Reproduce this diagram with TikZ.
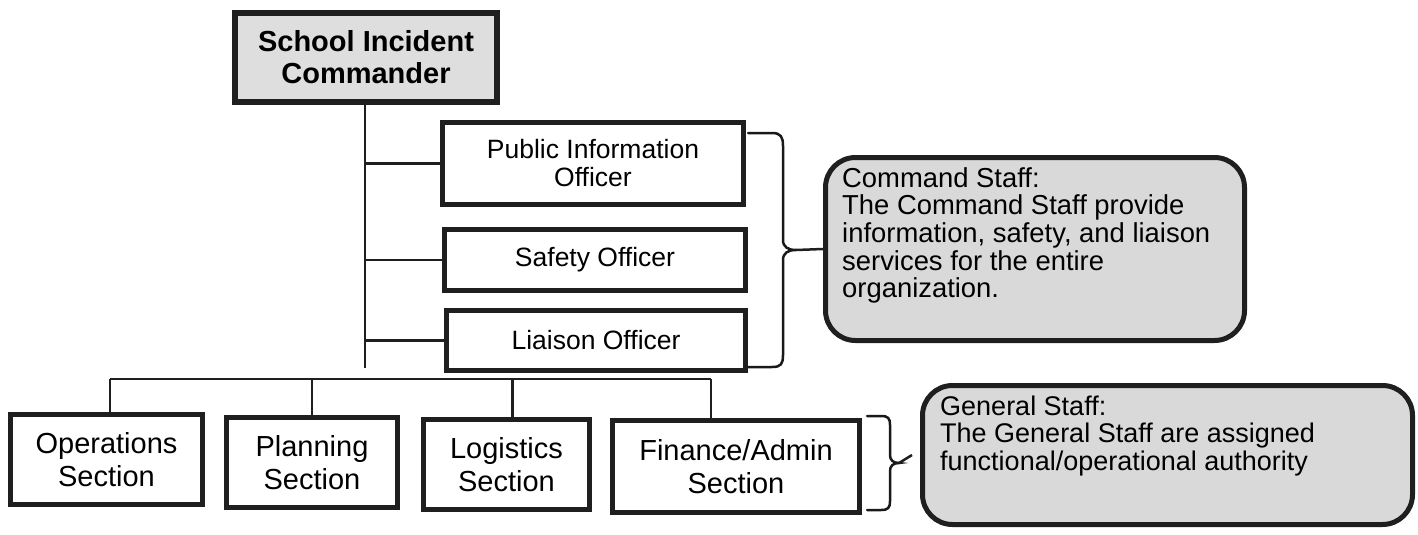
\documentclass[tikz,border=0pt]{standalone}
\usepackage{fontspec}
\setmainfont{Liberation Sans}
\begin{document}
\begin{tikzpicture}[x=1pt,y=-1pt,
  box/.style={draw=black!88, line width=5pt, fill=white, inner sep=0pt, align=center, text=black},
  cmdbox/.style={box, line width=6pt, fill=black!13, font=\bfseries\fontsize{29}{32}\selectfont},
  offbox/.style={box, font=\fontsize{26.5}{28}\selectfont},
  secbox/.style={box, font=\fontsize{29}{33}\selectfont},
  staffbox/.style={draw=black!88, line width=5pt, fill=black!15, rounded corners=30pt, inner sep=0pt},
  stafftext/.style={anchor=north west, inner sep=0pt, align=left, text=black},
  conn/.style={draw=black!88, line width=2.5pt},
  bracket/.style={draw=black!90, line width=2.5pt, line cap=round}
]
\useasboundingbox (0,0) rectangle (1418,535);

% commander
\node[cmdbox, minimum width=262pt, minimum height=89pt] (cmd) at (366,57.5) {School Incident\\Commander};

% officers
\node[offbox, minimum width=301pt, minimum height=82pt] (pio) at (593,163.5) {Public Information\\Officer};
\node[offbox, minimum width=301pt, minimum height=61pt] (so) at (595,260) {Safety Officer};
\node[offbox, minimum width=299pt, minimum height=60pt] (lo) at (596,340.5) {Liaison Officer};

% sections
\node[secbox, minimum width=192pt, minimum height=90pt] (ops) at (106.5,459.5) {Operations\\Section};
\node[secbox, minimum width=171pt, minimum height=90pt] (plan) at (312,462.5) {Planning\\Section};
\node[secbox, minimum width=166pt, minimum height=90pt] (log) at (506.5,464.5) {Logistics\\Section};
\node[secbox, minimum width=247pt, minimum height=92pt] (fin) at (736,466.5) {Finance/Admin\\Section};

% trunk and branches
\coordinate (trunkend) at (365,368);
\draw[conn] (cmd.south -| trunkend) -- (trunkend);
\draw[conn] (trunkend |- pio.west) -- (pio.west);
\draw[conn] (trunkend |- so.west) -- (so.west);
\draw[conn] (trunkend |- lo.west) -- (lo.west);

% section bus
\coordinate (busL) at (110,379);
\coordinate (busR) at (711,379);
\draw[conn] (busL) -- (busR);
\draw[conn] (busL) -- (busL |- ops.north);
\draw[conn] (plan.north |- busL) -- (plan.north);
\draw[conn] ([xshift=6pt]log.north |- busL) -- ([xshift=6pt]log.north);
\draw[conn] (busR) -- (busR |- fin.north);

% staff boxes
\node[staffbox, minimum width=419pt, minimum height=183pt] (cs) at (1035,249) {};
\node[stafftext, font=\fontsize{27.4}{27.7}\selectfont] (cstext) at (842,167)
  {Command Staff:\\The Command Staff provide\\information, safety, and liaison\\services for the entire\\organization.};
\node[staffbox, minimum width=490pt, minimum height=139pt] (gs) at (1167.5,455) {};
\node[stafftext, font=\fontsize{27}{27.5}\selectfont] (gstext) at (940,395.5)
  {General Staff:\\The General Staff are assigned\\functional/operational authority};

% brackets
\path[bracket] (748,133) -- (772,133) .. controls (781,133) and (783,137) .. (783,146)
  -- (783,240) .. controls (783,247) and (788,250) .. (796,250)
  .. controls (788,250) and (783,253) .. (783,260)
  -- (783,355) .. controls (783,364) and (781,367) .. (772,367) -- (748,367);
\draw[conn] (796,250) -- (cs.west);
\path[bracket] (867,416) -- (881,416) .. controls (888,416) and (890,418) .. (890,425)
  -- (890,455) .. controls (890,460) and (893,463) .. (899,463)
  .. controls (893,463) and (890,466) .. (890,471)
  -- (890,501) .. controls (890,508) and (888,510) .. (881,510) -- (867,510);
\draw[conn] (899,463) -- ([xshift=-8pt]gs.west);
\end{tikzpicture}
\end{document}
